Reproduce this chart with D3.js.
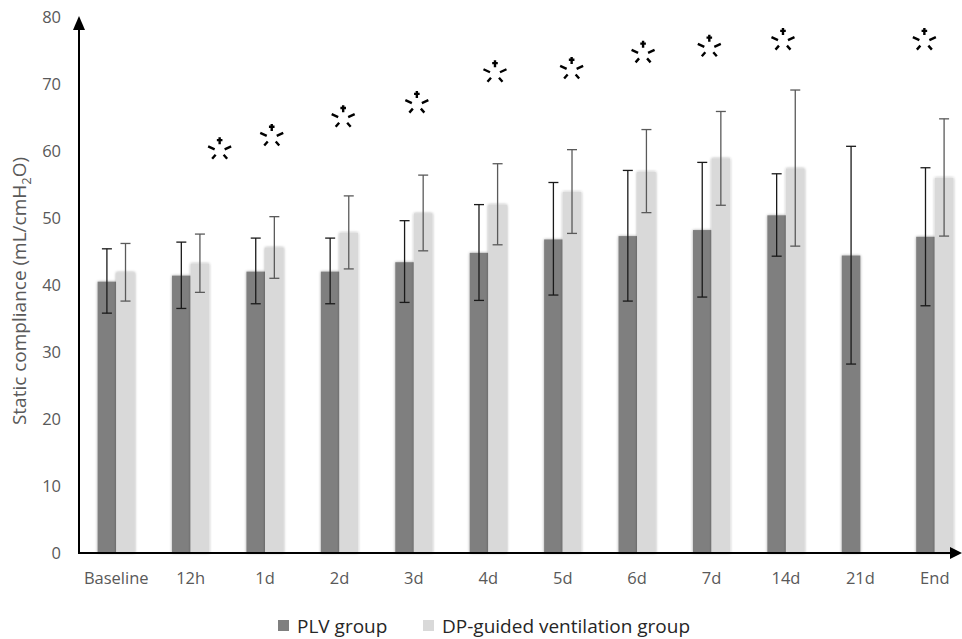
<!DOCTYPE html>
<html>
<head>
<meta charset="utf-8">
<script src="https://cdn.jsdelivr.net/npm/d3@7"></script>
<style>
  body { margin: 0; background: #fff; }
  svg text { font-family: "Open Sans", "Liberation Sans", sans-serif; }
</style>
</head>
<body>
<div id="chart"></div>
<script>
"use strict";

// categories and values
const categories = ["Baseline", "12h", "1d", "2d", "3d", "4d", "5d", "6d", "7d", "14d", "21d", "End"];
const plvMean = [40.5, 41.4, 42.0, 42.0, 43.4, 44.8, 46.8, 47.3, 48.2, 50.4, 44.4, 47.2];
const plvLow  = [35.8, 36.5, 37.2, 37.2, 37.4, 37.7, 38.5, 37.6, 38.2, 44.3, 28.2, 36.9];
const plvHigh = [45.4, 46.4, 47.0, 47.0, 49.6, 52.0, 55.3, 57.1, 58.3, 56.6, 60.7, 57.5];
const dpMean  = [41.9, 43.2, 45.6, 47.8, 50.7, 52.0, 53.9, 56.9, 58.9, 57.4, null, 56.0];
const dpLow   = [37.6, 38.9, 41.0, 42.4, 45.1, 46.0, 47.7, 50.8, 51.9, 45.8, null, 47.3];
const dpHigh  = [46.2, 47.6, 50.2, 53.3, 56.4, 58.1, 60.2, 63.2, 65.9, 69.1, null, 64.8];
// significance markers: category, value, shift (fraction of a step)
const markCats  = ["12h", "1d", "2d", "3d", "4d", "5d", "6d", "7d", "14d", "End"];
const markVals  = [60.1, 62.1, 64.9, 67.0, 71.6, 72.1, 74.5, 75.4, 76.4, 76.4];
const markShift = [0.39, 0.09, 0.05, 0.04, 0.09, 0.12, 0.08, -0.03, -0.04, -0.14];
const yTicks = [0, 10, 20, 30, 40, 50, 60, 70, 80];
const seriesNames = ["PLV group", "DP-guided ventilation group"];

const W = 962, H = 639;
const mLeft = 79, mRight = 972, mTop = 17, mBottom = 553;

const svg = d3.select("#chart").append("svg")
  .attr("width", W).attr("height", H)
  .attr("viewBox", [0, 0, W, H]);

const defs = svg.append("defs");
const glow = defs.append("filter").attr("id", "glow")
  .attr("x", "-30%").attr("y", "-5%").attr("width", "160%").attr("height", "110%");
glow.append("feGaussianBlur").attr("in", "SourceAlpha").attr("stdDeviation", 1.8).attr("result", "b");
glow.append("feComponentTransfer").attr("in", "b").attr("result", "s")
  .append("feFuncA").attr("type", "linear").attr("slope", 0.35);
const merge = glow.append("feMerge");
merge.append("feMergeNode").attr("in", "s");
merge.append("feMergeNode").attr("in", "SourceGraphic");

const x0 = d3.scaleBand().domain(categories).range([mLeft, mRight])
  .paddingInner(0.5).paddingOuter(0.25);
const x1 = d3.scaleBand().domain([0, 1]).range([0, x0.bandwidth()]);
const y = d3.scaleLinear().domain([0, 80]).range([mBottom, mTop]);

const colors = ["#7f7f7f", "#d9d9d9"];
const errColors = ["#1a1a1a", "#5a5a5a"];

const series = [
  categories.map((c, i) => ({ c, m: plvMean[i], lo: plvLow[i], hi: plvHigh[i] })),
  categories.map((c, i) => ({ c, m: dpMean[i], lo: dpLow[i], hi: dpHigh[i] }))
];

// bars
series.forEach((s, k) => {
  svg.append("g").attr("filter", "url(#glow)")
    .selectAll("rect")
    .data(s.filter(d => d.m != null))
    .enter()
    .append("rect")
    .attr("x", d => x0(d.c) + x1(k))
    .attr("y", d => y(d.m))
    .attr("width", x1.bandwidth())
    .attr("height", d => y(0) - y(d.m))
    .style("fill", colors[k]);
});

// error bars
series.forEach((s, k) => {
  const g = svg.append("g").attr("stroke", errColors[k]).attr("stroke-width", 1.3);
  const data = s.filter(d => d.m != null);
  const cx = d => x0(d.c) + x1(k) + x1.bandwidth() / 2;
  g.selectAll("line.v").data(data).enter().append("line")
    .attr("x1", cx).attr("x2", cx)
    .attr("y1", d => y(d.lo)).attr("y2", d => y(d.hi));
  ["lo", "hi"].forEach(key => {
    g.selectAll("line." + key).data(data).enter().append("line")
      .attr("x1", d => cx(d) - 5).attr("x2", d => cx(d) + 5)
      .attr("y1", d => y(d[key])).attr("y2", d => y(d[key]));
  });
});

// axes
const yAxis = d3.axisLeft(y).tickValues(yTicks).tickSize(0).tickPadding(18);
const gy = svg.append("g").attr("transform", `translate(${mLeft},0)`).call(yAxis);
gy.select(".domain").remove();
gy.selectAll("text").style("font-size", "16.5px").style("fill", "#595959");

const xAxis = d3.axisBottom(x0).tickSize(0).tickPadding(19);
const gx = svg.append("g").attr("transform", `translate(0,${mBottom})`).call(xAxis);
gx.select(".domain").remove();
gx.selectAll("text").style("font-size", "16.5px").style("fill", "#595959");

svg.append("line").attr("x1", mLeft).attr("x2", 955).attr("y1", mBottom).attr("y2", mBottom)
  .attr("stroke", "#000").attr("stroke-width", 2);
svg.append("path").attr("d", `M962,${mBottom} L950,${mBottom - 6} L950,${mBottom + 6} Z`).attr("fill", "#000");
svg.append("line").attr("x1", mLeft).attr("x2", mLeft).attr("y1", mBottom + 1).attr("y2", 26)
  .attr("stroke", "#000").attr("stroke-width", 2);
svg.append("path").attr("d", `M${mLeft},16 L${mLeft - 6},30 L${mLeft + 6},30 Z`).attr("fill", "#000");

// y title
const yt = svg.append("text")
  .attr("transform", "translate(26,291) rotate(-90)")
  .attr("text-anchor", "middle")
  .style("font-size", "19px").style("fill", "#595959");
yt.append("tspan").text("Static compliance (mL/cmH");
yt.append("tspan").attr("dy", 5).style("font-size", "13px").text("2");
yt.append("tspan").attr("dy", -5).text("O)");

// significance markers
const markPath =
  "M0,-16 L0,-9 M-2.8,-13.2 L2.8,-13.2 " +
  "M-11.5,-7 L-5,-4 M11.5,-7 L5,-4 " +
  "M-4,1.5 L-7.5,5.5 M4,1.5 L7.5,5.5";
svg.append("g").selectAll("path")
  .data(markCats.map((c, i) => ({ c, v: markVals[i], s: markShift[i] })))
  .enter()
  .append("path")
  .attr("transform", d => `translate(${x0(d.c) + x0.bandwidth() / 2 + d.s * x0.step()},${y(d.v) + 3})`)
  .attr("d", markPath)
  .attr("fill", "none")
  .attr("stroke", "#000")
  .attr("stroke-width", 2.4);

// legend
const legend = svg.append("g").attr("transform", "translate(278,626)");
const lx = [0, 145];
seriesNames.forEach((name, k) => {
  legend.append("rect").attr("x", lx[k]).attr("y", -6).attr("width", 11).attr("height", 11)
    .style("fill", colors[k]);
  legend.append("text").attr("x", lx[k] + 19).attr("y", 0).attr("dy", "0.35em")
    .style("font-size", "19px").style("fill", "#262626").text(name);
});
</script>
</body>
</html>
